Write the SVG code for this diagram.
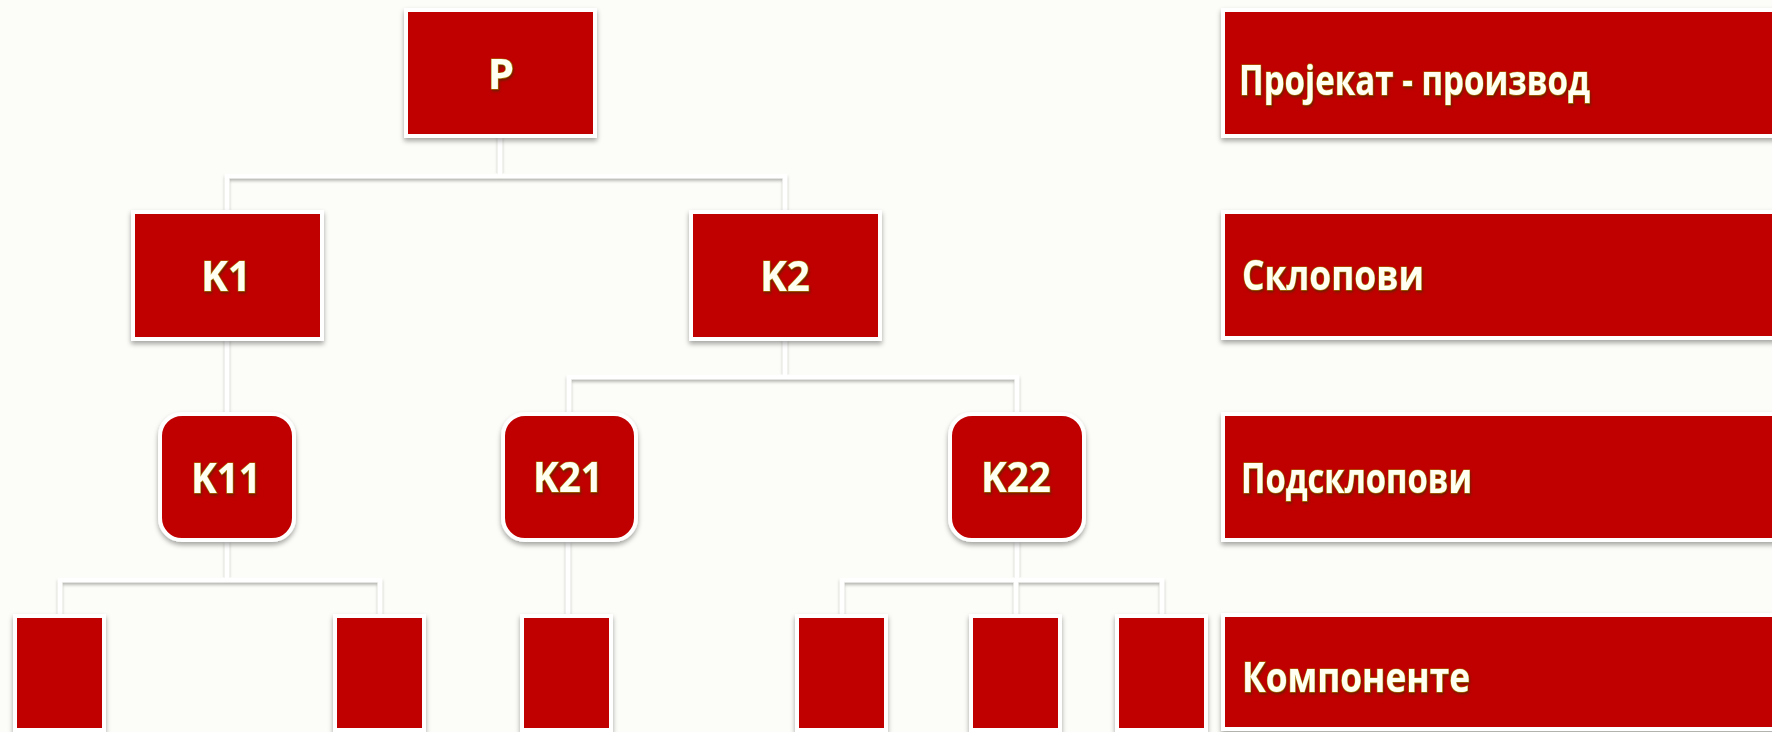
<svg xmlns="http://www.w3.org/2000/svg" width="1772" height="732" viewBox="0 0 1772 732">
  <defs>
    <filter id="boxShadow" x="-10%" y="-10%" width="120%" height="130%">
      <feDropShadow dx="0" dy="3" stdDeviation="2.5" flood-color="#000000" flood-opacity="0.35"/>
    </filter>
    <filter id="lineShadow" x="-5%" y="-5%" width="110%" height="110%">
      <feDropShadow dx="0" dy="2.5" stdDeviation="1.5" flood-color="#000000" flood-opacity="0.3"/>
    </filter>
    <filter id="textGlow" x="-10%" y="-20%" width="120%" height="150%">
      <feDropShadow dx="1" dy="2" stdDeviation="1" flood-color="#4a2a00" flood-opacity="0.65"/>
    </filter>
  </defs>
  <style>
    .box { fill: #c00000; stroke: #ffffff; stroke-width: 4; filter: url(#boxShadow); }
    .conn { fill: none; stroke: #ffffff; stroke-width: 4.5; stroke-linecap: square; }
    .lbl { font-family: "Open Sans", "Liberation Sans", "DejaVu Sans", sans-serif; font-weight: bold; font-size: 42px; fill: #fffff2; stroke: #a68000; stroke-width: 1.2; paint-order: stroke; filter: url(#textGlow); }
    .mid { text-anchor: middle; }
  </style>
  <rect width="1772" height="732" fill="#fcfcf8"/>

  <g id="connectors" filter="url(#lineShadow)">
    <path class="conn" d="M500,137 V176 M227,176 H785 M227,176 V211 M785,176 V211"/>
    <path class="conn" d="M227,340 V413"/>
    <path class="conn" d="M785,340 V377 M569,377 H1017 M569,377 V413 M1017,377 V413"/>
    <path class="conn" d="M227,543 V580 M60,580 H380 M60,580 V615 M380,580 V615"/>
    <path class="conn" d="M568,543 V615"/>
    <path class="conn" d="M1017,543 V580 M842,580 H1162 M842,580 V615 M1016,580 V615 M1162,580 V615"/>
  </g>

  <g id="node-P">
    <rect class="box" x="406" y="10" width="189" height="126"/>
    <text class="lbl mid" x="501" y="89">P</text>
  </g>
  <g id="node-K1">
    <rect class="box" x="133" y="212" width="189" height="127"/>
    <text class="lbl mid" x="226" y="291" textLength="50" lengthAdjust="spacingAndGlyphs">K1</text>
  </g>
  <g id="node-K2">
    <rect class="box" x="691" y="212" width="189" height="127"/>
    <text class="lbl mid" x="785" y="291" textLength="50" lengthAdjust="spacingAndGlyphs">K2</text>
  </g>
  <g id="node-K11">
    <rect class="box" x="160" y="414" width="134" height="126" rx="22"/>
    <text class="lbl mid" x="226" y="493" textLength="70" lengthAdjust="spacingAndGlyphs">K11</text>
  </g>
  <g id="node-K21">
    <rect class="box" x="503" y="414" width="133" height="126" rx="22"/>
    <text class="lbl mid" x="568" y="492" textLength="70" lengthAdjust="spacingAndGlyphs">K21</text>
  </g>
  <g id="node-K22">
    <rect class="box" x="950" y="414" width="134" height="126" rx="22"/>
    <text class="lbl mid" x="1016" y="492" textLength="70" lengthAdjust="spacingAndGlyphs">K22</text>
  </g>

  <g id="leaf-1"><rect class="box" x="15" y="616" width="89" height="114"/></g>
  <g id="leaf-2"><rect class="box" x="335" y="616" width="89" height="114"/></g>
  <g id="leaf-3"><rect class="box" x="522" y="616" width="89" height="114"/></g>
  <g id="leaf-4"><rect class="box" x="797" y="616" width="89" height="114"/></g>
  <g id="leaf-5"><rect class="box" x="971" y="616" width="89" height="114"/></g>
  <g id="leaf-6"><rect class="box" x="1117" y="616" width="89" height="114"/></g>

  <g id="level-1">
    <rect class="box" x="1223" y="10" width="600" height="126"/>
    <text class="lbl" x="1239" y="95" textLength="351" lengthAdjust="spacingAndGlyphs">Пројекат - производ</text>
  </g>
  <g id="level-2">
    <rect class="box" x="1223" y="212" width="600" height="126"/>
    <text class="lbl" x="1242" y="290" textLength="182" lengthAdjust="spacingAndGlyphs">Склопови</text>
  </g>
  <g id="level-3">
    <rect class="box" x="1223" y="414" width="600" height="126"/>
    <text class="lbl" x="1241" y="493" textLength="231" lengthAdjust="spacingAndGlyphs">Подсклопови</text>
  </g>
  <g id="level-4">
    <rect class="box" x="1223" y="615" width="600" height="114"/>
    <text class="lbl" x="1242" y="692" textLength="228" lengthAdjust="spacingAndGlyphs">Компоненте</text>
  </g>
</svg>
